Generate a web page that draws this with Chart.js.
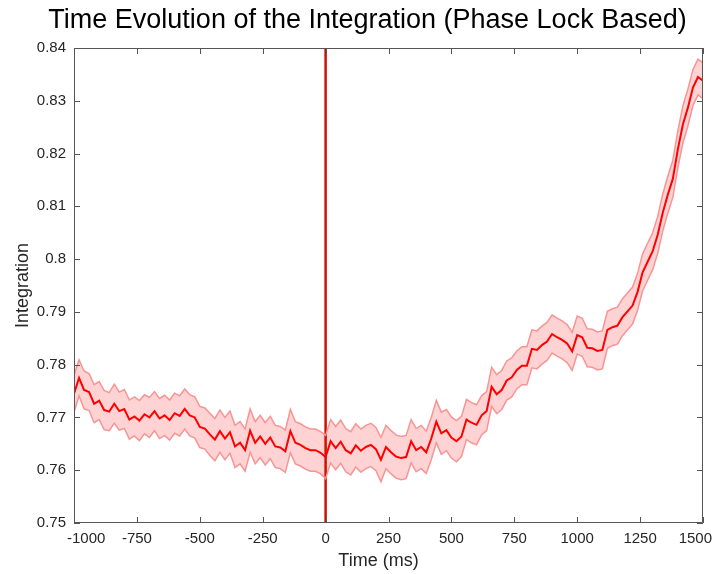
<!DOCTYPE html>
<html>
<head>
<meta charset="utf-8">
<script src="https://cdn.jsdelivr.net/npm/chart.js@4.4.1/dist/chart.umd.min.js"></script>
<style>
  body { margin: 0; background: #fff; }
  #wrap { width: 716px; height: 574px; }
</style>
</head>
<body>
<div id="wrap"><canvas id="chart" width="716" height="574"></canvas></div>
<script>
// time axis (ms), one sample per 20 ms
const times = [
  -1000, -980, -960, -940, -920, -900, -880, -860, -840, -820, -800, -780, -760, -740, -720, -700,
  -680, -660, -640, -620, -600, -580, -560, -540, -520, -500, -480, -460, -440, -420, -400, -380,
  -360, -340, -320, -300, -280, -260, -240, -220, -200, -180, -160, -140, -120, -100, -80, -60,
  -40, -20, 0, 20, 40, 60, 80, 100, 120, 140, 160, 180, 200, 220, 240, 260,
  280, 300, 320, 340, 360, 380, 400, 420, 440, 460, 480, 500, 520, 540, 560, 580,
  600, 620, 640, 660, 680, 700, 720, 740, 760, 780, 800, 820, 840, 860, 880, 900,
  920, 940, 960, 980, 1000, 1020, 1040, 1060, 1080, 1100, 1120, 1140, 1160, 1180, 1200, 1220,
  1240, 1260, 1280, 1300, 1320, 1340, 1360, 1380, 1400, 1420, 1440, 1460, 1480, 1500
];

const meanIntegration = [
  0.7745, 0.7775, 0.7752, 0.7748, 0.7726, 0.7732, 0.7714, 0.7711, 0.7726, 0.7712, 0.7716, 0.7696, 0.7702, 0.7694, 0.7706, 0.7700,
  0.7712, 0.7698, 0.7704, 0.7695, 0.7708, 0.7703, 0.7716, 0.7704, 0.7700, 0.7682, 0.7679, 0.7668, 0.7658, 0.7674, 0.7660, 0.7672,
  0.7645, 0.7652, 0.7638, 0.7675, 0.7652, 0.7664, 0.7650, 0.7662, 0.7645, 0.7643, 0.7636, 0.7674, 0.7652, 0.7648, 0.7642, 0.7638,
  0.7638, 0.7633, 0.7625, 0.7655, 0.7642, 0.7654, 0.7638, 0.7632, 0.7647, 0.7637, 0.7644, 0.7648, 0.7640, 0.7620, 0.7644, 0.7634,
  0.7626, 0.7623, 0.7625, 0.7655, 0.7638, 0.7644, 0.7634, 0.7660, 0.7692, 0.7670, 0.7676, 0.7662, 0.7655, 0.7664, 0.7696, 0.7690,
  0.7686, 0.7704, 0.7712, 0.7758, 0.7744, 0.7752, 0.7770, 0.7776, 0.7790, 0.7798, 0.7798, 0.7830, 0.7828, 0.7837, 0.7844, 0.7858,
  0.7852, 0.7847, 0.7840, 0.7825, 0.7856, 0.7852, 0.7832, 0.7831, 0.7826, 0.7828, 0.7866, 0.7871, 0.7874, 0.7890, 0.7901, 0.7912,
  0.7938, 0.7975, 0.7995, 0.8015, 0.8046, 0.8088, 0.8122, 0.8152, 0.8208, 0.8255, 0.8287, 0.8325, 0.8345, 0.8338
];

const upperBound = [
  0.7780, 0.7809, 0.7788, 0.7783, 0.7762, 0.7768, 0.7751, 0.7747, 0.7763, 0.7748, 0.7753, 0.7733, 0.7739, 0.7732, 0.7743, 0.7738,
  0.7749, 0.7736, 0.7742, 0.7733, 0.7746, 0.7741, 0.7754, 0.7743, 0.7739, 0.7721, 0.7718, 0.7708, 0.7698, 0.7714, 0.7700, 0.7712,
  0.7685, 0.7692, 0.7678, 0.7716, 0.7692, 0.7704, 0.7690, 0.7702, 0.7685, 0.7683, 0.7676, 0.7715, 0.7692, 0.7688, 0.7682, 0.7678,
  0.7678, 0.7673, 0.7666, 0.7696, 0.7683, 0.7695, 0.7679, 0.7673, 0.7688, 0.7678, 0.7685, 0.7689, 0.7681, 0.7662, 0.7685, 0.7675,
  0.7667, 0.7664, 0.7666, 0.7696, 0.7679, 0.7685, 0.7674, 0.7700, 0.7732, 0.7710, 0.7715, 0.7701, 0.7694, 0.7702, 0.7734, 0.7728,
  0.7724, 0.7741, 0.7749, 0.7795, 0.7781, 0.7789, 0.7807, 0.7813, 0.7826, 0.7834, 0.7834, 0.7866, 0.7864, 0.7873, 0.7880, 0.7894,
  0.7888, 0.7883, 0.7876, 0.7861, 0.7892, 0.7888, 0.7868, 0.7867, 0.7862, 0.7864, 0.7901, 0.7906, 0.7909, 0.7925, 0.7936, 0.7947,
  0.7973, 0.8010, 0.8030, 0.8050, 0.8081, 0.8123, 0.8157, 0.8187, 0.8243, 0.8290, 0.8322, 0.8359, 0.8379, 0.8372
];

const lowerBound = [
  0.7710, 0.7741, 0.7716, 0.7713, 0.7690, 0.7696, 0.7677, 0.7675, 0.7689, 0.7676, 0.7679, 0.7659, 0.7665, 0.7656, 0.7669, 0.7662,
  0.7675, 0.7660, 0.7666, 0.7657, 0.7670, 0.7665, 0.7678, 0.7665, 0.7661, 0.7643, 0.7640, 0.7628, 0.7618, 0.7634, 0.7620, 0.7632,
  0.7605, 0.7612, 0.7598, 0.7634, 0.7612, 0.7624, 0.7610, 0.7622, 0.7605, 0.7603, 0.7596, 0.7633, 0.7612, 0.7608, 0.7602, 0.7598,
  0.7598, 0.7593, 0.7584, 0.7614, 0.7601, 0.7613, 0.7597, 0.7591, 0.7606, 0.7596, 0.7603, 0.7607, 0.7599, 0.7578, 0.7603, 0.7593,
  0.7585, 0.7582, 0.7584, 0.7614, 0.7597, 0.7603, 0.7594, 0.7620, 0.7652, 0.7630, 0.7637, 0.7623, 0.7616, 0.7626, 0.7658, 0.7652,
  0.7648, 0.7667, 0.7675, 0.7721, 0.7707, 0.7715, 0.7733, 0.7739, 0.7754, 0.7762, 0.7762, 0.7794, 0.7792, 0.7801, 0.7808, 0.7822,
  0.7816, 0.7811, 0.7804, 0.7789, 0.7820, 0.7816, 0.7796, 0.7795, 0.7790, 0.7792, 0.7831, 0.7836, 0.7839, 0.7855, 0.7866, 0.7877,
  0.7903, 0.7940, 0.7960, 0.7980, 0.8011, 0.8053, 0.8087, 0.8117, 0.8173, 0.8220, 0.8252, 0.8291, 0.8311, 0.8304
];

// stimulus onset marker
const onsetTime = 0;
const yRange = [0.75, 0.84];
const xRange = [-1000, 1500];
const xTitle = 'Time (ms)';

const pts = arr => times.map((t, i) => ({ x: t, y: arr[i] }));

const font = '"Liberation Sans", Arial, Helvetica, sans-serif';

// MATLAB style: box on all sides, ticks pointing inwards,
// end tick labels pushed inside the figure
const boxTicks = {
  id: 'boxTicks',
  afterDraw(c) {
    const { ctx, chartArea: a, scales } = c;
    ctx.save();
    ctx.strokeStyle = '#555';
    ctx.lineWidth = 1;
    ctx.beginPath();
    ctx.rect(a.left + 0.5, a.top + 0.5, a.right - a.left - 1, a.bottom - a.top - 1);
    scales.x.ticks.forEach(t => {
      const px = Math.round(scales.x.getPixelForValue(t.value)) + 0.5;
      ctx.moveTo(px, a.bottom); ctx.lineTo(px, a.bottom - 6);
      ctx.moveTo(px, a.top); ctx.lineTo(px, a.top + 6);
    });
    scales.y.ticks.forEach(t => {
      const py = Math.round(scales.y.getPixelForValue(t.value)) + 0.5;
      ctx.moveTo(a.left, py); ctx.lineTo(a.left + 6, py);
      ctx.moveTo(a.right, py); ctx.lineTo(a.right - 6, py);
    });
    ctx.stroke();

    ctx.fillStyle = '#262626';
    ctx.textAlign = 'center';
    ctx.textBaseline = 'middle';
    ctx.font = '15px ' + font;
    scales.x.ticks.forEach(t => {
      const label = String(t.value);
      const w = ctx.measureText(label).width;
      let cx = scales.x.getPixelForValue(t.value);
      cx = Math.max(cx, a.left - 7 + w / 2);
      cx = Math.min(cx, a.right + 9 - w / 2);
      ctx.fillText(label, cx, a.bottom + 16);
    });
    ctx.font = '18px ' + font;
    ctx.fillText(xTitle, (a.left + a.right) / 2 - 10, a.bottom + 38);
    ctx.restore();
  }
};

new Chart(document.getElementById('chart'), {
  type: 'line',
  data: {
    datasets: [
      {
        data: pts(upperBound),
        borderColor: '#f79494',
        backgroundColor: '#ffd3d3',
        borderWidth: 1.5,
        fill: '+1',
        pointRadius: 0
      },
      {
        data: pts(lowerBound),
        borderColor: '#f79494',
        borderWidth: 1.5,
        fill: false,
        pointRadius: 0
      },
      {
        data: pts(meanIntegration),
        borderColor: '#ff0000',
        borderWidth: 2,
        fill: false,
        pointRadius: 0
      },
      {
        data: [{ x: onsetTime, y: yRange[0] }, { x: onsetTime, y: yRange[1] }],
        borderColor: '#cc1100',
        borderWidth: 2.5,
        fill: false,
        pointRadius: 0
      }
    ]
  },
  options: {
    responsive: false,
    animation: false,
    layout: { padding: { left: 32, right: 13, top: 0, bottom: 0 } },
    plugins: {
      legend: { display: false },
      tooltip: { enabled: false },
      filler: { drawTime: 'beforeDatasetsDraw' },
      title: {
        display: true,
        text: 'Time Evolution of the Integration (Phase Lock Based)',
        color: '#000',
        font: { family: font, size: 27, weight: 'normal' },
        padding: { top: 4, bottom: 11.6 }
      }
    },
    scales: {
      x: {
        type: 'linear',
        min: xRange[0],
        max: xRange[1],
        grid: { display: false, drawTicks: false },
        border: { display: false },
        ticks: { stepSize: 250, display: false },
        afterFit(s) { s.height = 51; s.paddingLeft = 0; s.paddingRight = 0; }
      },
      y: {
        min: yRange[0],
        max: yRange[1],
        grid: { display: false, drawTicks: false },
        border: { display: false },
        ticks: {
          stepSize: 0.01,
          color: '#262626',
          padding: 8,
          font: { family: font, size: 15 },
          callback: v => String(Number(v.toFixed(2)))
        },
        title: {
          display: true,
          text: 'Integration',
          color: '#262626',
          font: { family: font, size: 18 },
          padding: { top: -20, bottom: 0 }
        },
        afterFit(s) { s.width = 42; s.paddingTop = 0; s.paddingBottom = 0; }
      }
    }
  },
  plugins: [boxTicks]
});
</script>
</body>
</html>
